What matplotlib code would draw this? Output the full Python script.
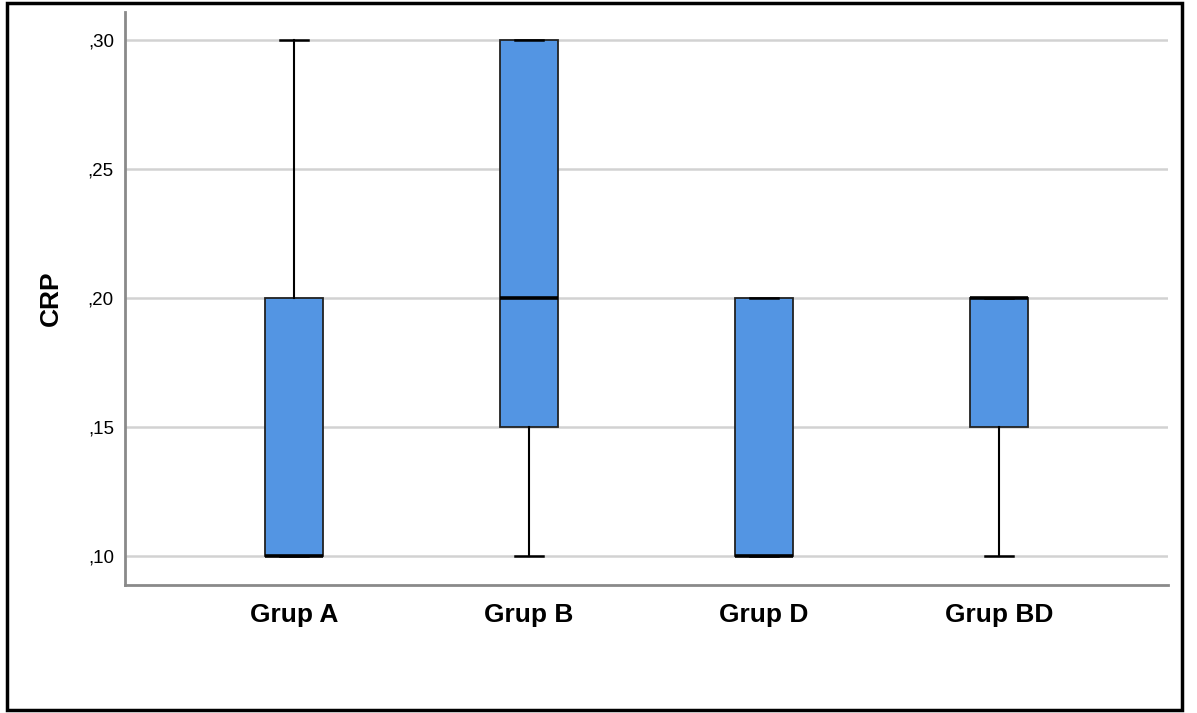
# CRP boxplot by group

import matplotlib.pyplot as plt
from matplotlib.patches import Rectangle

groups = ['Grup A', 'Grup B', 'Grup D', 'Grup BD']
whislo = [0.10, 0.10, 0.10, 0.10]
q1 = [0.10, 0.15, 0.10, 0.15]
med = [0.10, 0.20, 0.10, 0.20]
q3 = [0.20, 0.30, 0.20, 0.20]
whishi = [0.30, 0.30, 0.20, 0.20]
yticks = [0.10, 0.15, 0.20, 0.25, 0.30]
ytick_labels = [',10', ',15', ',20', ',25', ',30']

plt.rcParams['font.family'] = ['Liberation Sans', 'DejaVu Sans']

stats = []
for i in range(len(groups)):
    stats.append({'label': groups[i], 'whislo': whislo[i], 'q1': q1[i],
                  'med': med[i], 'q3': q3[i], 'whishi': whishi[i], 'fliers': []})

fig = plt.figure(figsize=(11.97, 7.13), dpi=100)
ax = fig.add_axes([0.1044, 0.1795, 0.8714, 0.8037])

pos = list(range(len(groups)))
ax.bxp(stats, positions=pos, widths=0.247, capwidths=0.12, patch_artist=True,
       showfliers=False,
       boxprops=dict(facecolor='#5395e3', edgecolor='#222222', linewidth=1.3),
       medianprops=dict(color='black', linewidth=2.6, solid_capstyle='butt'),
       whiskerprops=dict(color='black', linewidth=1.5),
       capprops=dict(color='black', linewidth=1.8),
       zorder=3)

ax.set_xlim(-0.72, 3.72)
ax.set_ylim(0.08876, 0.31085)
ax.set_yticks(yticks)
ax.set_yticklabels(ytick_labels, fontsize=13.5)
ax.set_xticks(pos)
ax.set_xticklabels(groups, fontsize=19, fontweight='bold')
ax.tick_params(axis='y', length=0, pad=8)
ax.tick_params(axis='x', length=0, pad=13)
ax.set_ylabel('CRP', fontsize=19, fontweight='bold')
ax.yaxis.set_label_coords(-0.060, 0.5)

ax.grid(axis='y', color='#d2d2d2', linewidth=1.8, zorder=0)
ax.set_axisbelow(True)
for s in ['top', 'right']:
    ax.spines[s].set_visible(False)
for s in ['left', 'bottom']:
    ax.spines[s].set_color('#8a8a8a')
    ax.spines[s].set_linewidth(2)

# black frame around the whole chart
fig.patches.append(Rectangle((7 / 1197, 3 / 713), 1175 / 1197, 707 / 713,
                             transform=fig.transFigure, fill=False,
                             edgecolor='black', linewidth=2.5))

fig.savefig('out.png', dpi=100)
